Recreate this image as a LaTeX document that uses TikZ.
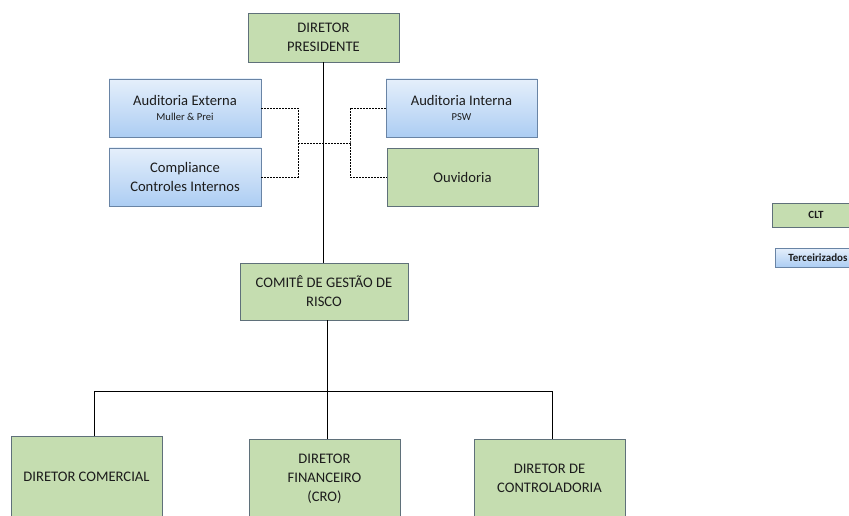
\documentclass[tikz,border=0pt]{standalone}
\usepackage{fontspec}
\setmainfont{Carlito}
\definecolor{verde}{RGB}{197,221,176}
\definecolor{bordaverde}{RGB}{95,112,122}
\definecolor{azulclaro}{RGB}{229,239,251}
\definecolor{azulescuro}{RGB}{172,205,243}
\definecolor{bordaazul}{RGB}{105,132,165}
\definecolor{texto}{RGB}{28,28,28}
\tikzset{
  caixa/.style={draw,line width=0.9pt,inner sep=0pt,align=center,text=texto,
    font=\fontsize{14.6}{19}\selectfont},
  caixaverde/.style={caixa,draw=bordaverde,fill=verde},
  caixaazul/.style={caixa,draw=bordaazul,top color=azulclaro,bottom color=azulescuro},
  legenda/.style={font=\bfseries\fontsize{11}{12}\selectfont},
  ligacao/.style={line width=1pt,black},
  tracejado/.style={line width=0.8pt,black,dash pattern=on 1.8pt off 1.2pt}
}
\begin{document}
\begin{tikzpicture}[x=1pt,y=-1pt]
	\useasboundingbox (0,0) rectangle (849,516);
	\clip (0,0) rectangle (849,516);
	%Quadro 1
	\node[caixaverde,minimum width=151pt,minimum height=49pt] (presidente) at (323.5,37.5) {DIRETOR\\PRESIDENTE};
	%Quadros 2
	\node[caixaazul,minimum width=152pt,minimum height=58pt] (audext) at (185,108) {Auditoria Externa\\[-4pt]{\fontsize{10.6}{11}\selectfont Muller \& Prei}};
	\node[caixaazul,minimum width=152pt,minimum height=58pt] (compl) at (185,177) {Compliance\\Controles Internos};
	\node[caixaazul,minimum width=151pt,minimum height=58pt] (audint) at (461.5,108) {Auditoria Interna\\[-4pt]{\fontsize{10.6}{11}\selectfont PSW}};
	\node[caixaverde,minimum width=151pt,minimum height=58pt] (ouv) at (462.5,177) {Ouvidoria};
	%Quadro 3
	\node[caixaverde,minimum width=168pt,minimum height=57pt] (comite) at (324,291.5) {COMITÊ DE GESTÃO DE\\RISCO};
	%Quadros 4
	\node[caixaverde,minimum width=151pt,minimum height=82pt] (comercial) at (86.5,477) {DIRETOR COMERCIAL};
	\node[caixaverde,minimum width=151pt,minimum height=79pt] (financeiro) at (324.5,478.5) {DIRETOR\\FINANCEIRO\\(CRO)};
	\node[caixaverde,minimum width=151pt,minimum height=79pt] (controladoria) at (549.5,478.5) {DIRETOR DE\\CONTROLADORIA};
	%Legenda
	\node[caixaverde,legenda,minimum width=88pt,minimum height=24pt] (clt) at (816,215) {CLT};
	\node[caixaazul,legenda,minimum width=86pt,minimum height=19pt] (terc) at (818,257.5) {Terceirizados};
	%Linhas tracejadas
	\coordinate (juncaoesq) at (298,143);
	\coordinate (juncaodir) at (350,143);
	\draw[tracejado] (audext.east) -| (juncaoesq) |- (compl.east);
	\draw[tracejado] (audint.west) -| (juncaodir) |- (ouv.west);
	\draw[tracejado] (juncaoesq) -- (juncaodir);
	%Linhas
	\coordinate (barra) at (0,391);
	\draw[ligacao] (presidente.south) -- (presidente.south |- comite.north);
	\draw[ligacao] ([xshift=3pt]comite.south) -- ([xshift=3pt]comite.south |- financeiro.north);
	\draw[ligacao] ([xshift=7.5pt]comercial.north) |- ([xshift=2.5pt]controladoria.north |- barra) -- ([xshift=2.5pt]controladoria.north);
\end{tikzpicture}
\end{document}
